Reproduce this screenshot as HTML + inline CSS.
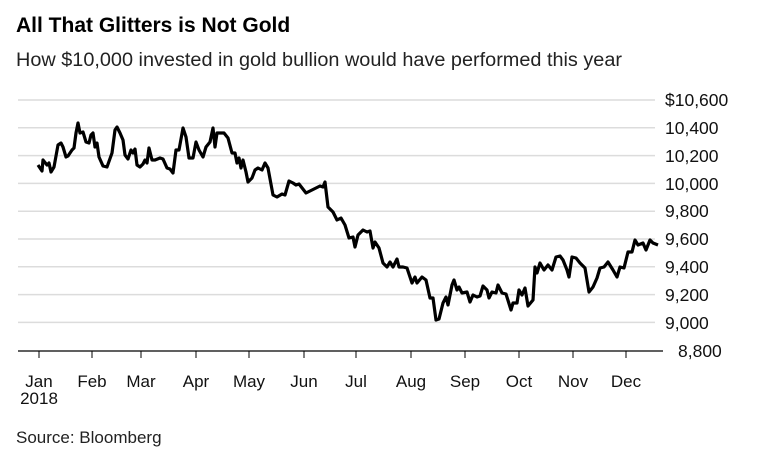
<!DOCTYPE html>
<html><head><meta charset="utf-8"><style>
body{margin:0;background:#fff;width:768px;height:456px;overflow:hidden;font-family:"Liberation Sans",sans-serif}
</style></head><body>
<svg width="768" height="456" xmlns="http://www.w3.org/2000/svg" font-family="Liberation Sans, sans-serif">
<text x="16" y="32" font-size="21" font-weight="bold" fill="#000">All That Glitters is Not Gold</text>
<text x="16" y="66" font-size="19" fill="#222" textLength="606" lengthAdjust="spacingAndGlyphs">How $10,000 invested in gold bullion would have performed this year</text>
<g stroke="#dcdcdc" stroke-width="1.5">
<line x1="18" x2="655" y1="100" y2="100"/><line x1="18" x2="655" y1="127.8" y2="127.8"/>
<line x1="18" x2="655" y1="155.6" y2="155.6"/><line x1="18" x2="655" y1="183.4" y2="183.4"/>
<line x1="18" x2="655" y1="211.2" y2="211.2"/><line x1="18" x2="655" y1="239" y2="239"/>
<line x1="18" x2="655" y1="266.8" y2="266.8"/><line x1="18" x2="655" y1="294.6" y2="294.6"/>
<line x1="18" x2="655" y1="322.4" y2="322.4"/>
</g>
<line x1="18" x2="663" y1="351" y2="351" stroke="#000" stroke-width="1.2"/>
<g stroke="#000" stroke-width="1">
<line x1="39" x2="39" y1="351" y2="358"/><line x1="92" x2="92" y1="351" y2="358"/><line x1="141" x2="141" y1="351" y2="358"/><line x1="196" x2="196" y1="351" y2="358"/><line x1="249" x2="249" y1="351" y2="358"/><line x1="304" x2="304" y1="351" y2="358"/><line x1="356" x2="356" y1="351" y2="358"/><line x1="411" x2="411" y1="351" y2="358"/><line x1="465" x2="465" y1="351" y2="358"/><line x1="519" x2="519" y1="351" y2="358"/><line x1="573" x2="573" y1="351" y2="358"/><line x1="626" x2="626" y1="351" y2="358"/>
</g>
<g font-size="17" fill="#111" text-anchor="middle">
<text x="39" y="387">Jan</text><text x="92" y="387">Feb</text><text x="141" y="387">Mar</text><text x="196" y="387">Apr</text><text x="249" y="387">May</text><text x="304" y="387">Jun</text><text x="356" y="387">Jul</text><text x="411" y="387">Aug</text><text x="465" y="387">Sep</text><text x="519" y="387">Oct</text><text x="573" y="387">Nov</text><text x="626" y="387">Dec</text>
<text x="39" y="404">2018</text>
</g>
<g font-size="17.5" fill="#111">
<text x="665" y="106">$10,600</text><text x="665" y="134">10,400</text><text x="665" y="162">10,200</text><text x="665" y="190">10,000</text><text x="665" y="217">9,800</text><text x="665" y="245">9,600</text><text x="665" y="273">9,400</text><text x="665" y="301">9,200</text><text x="665" y="329">9,000</text><text x="678" y="357">8,800</text>
</g>
<text x="16" y="443" font-size="17" fill="#222">Source: Bloomberg</text>
<polyline fill="none" stroke="#000" stroke-width="3.2" stroke-linejoin="round" points="38,165 42,171 43,160 47,165 49,163 51,172 54,167 58,145 61,143 63,147 66,157 68,156 72,150 74,148 76,133 78,123 80,133 83,132 86,142 89,143 91,135 93,133 95,147 97,143 99,157 103,166 107,167 112,153 115,130 117,127 120,133 123,140 125,155 128,159 131,150 133,153 135,149 137,165 140,167 143,164 145,160 147,163 149,148 152,160 155,160 160,158 163,159 167,168 170,169 173,173 176,150 179,150 183,128 186,137 189,158 193,158 196,142 199,150 203,157 206,147 210,142 213,128 215,147 217,133 220,133 224,133 228,138 232,153 235,153 237,163 239,158 241,168 243,160 246,172 248,182 252,178 255,170 258,168 262,170 265,163 268,168 273,195 277,197 282,194 285,195 289,181 293,183 296,185 299,184 306,193 310,191 316,188 320,186 323,187 325,182 328,207 333,212 337,220 341,218 345,225 349,238 353,237 355,247 358,235 363,230 367,232 370,231 373,248 375,242 379,248 383,263 387,267 390,262 393,267 397,259 399,267 403,267 407,268 412,283 415,277 417,283 422,277 426,280 430,298 433,298 436,320 439,319 443,303 446,297 448,305 452,285 454,280 457,290 459,287 462,293 467,292 470,302 473,295 477,297 480,296 483,286 487,290 489,298 492,292 496,293 498,285 502,293 506,294 511,310 513,303 517,303 519,290 522,295 525,288 528,306 533,300 535,267 537,273 540,263 544,270 548,265 552,270 556,257 560,256 563,260 567,270 569,277 572,257 576,258 580,263 585,268 589,292 593,287 597,278 600,268 604,267 608,262 613,270 617,277 620,267 624,268 628,252 632,252 635,240 638,245 643,243 646,250 650,240 653,243 658,245"/>
</svg>
</body></html>
